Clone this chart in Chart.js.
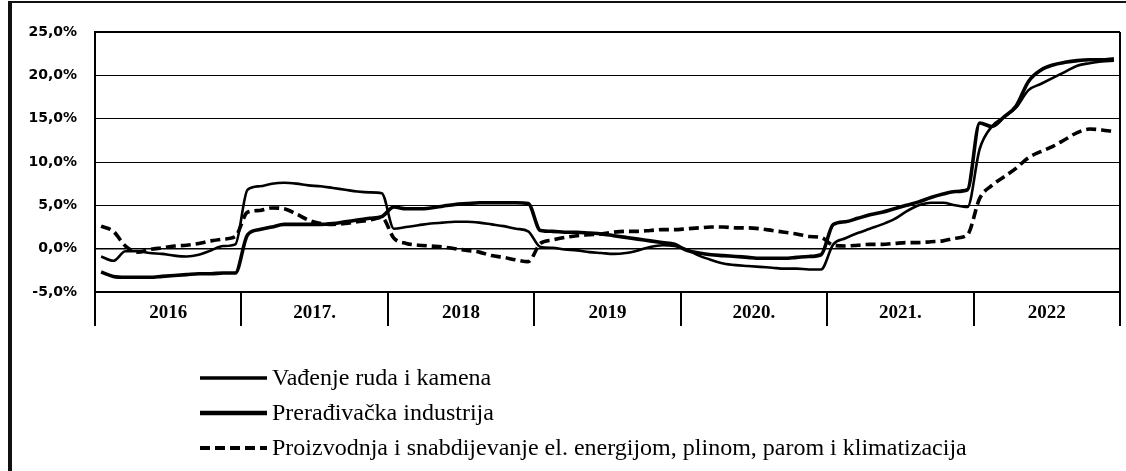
<!DOCTYPE html>
<html>
<head>
<meta charset="utf-8">
<script src="https://cdn.jsdelivr.net/npm/chart.js@4.4.1/dist/chart.umd.min.js"></script>
<style>
  html, body { margin: 0; padding: 0; background: #fff; }
  #wrap { position: relative; width: 1126px; height: 471px; }
  #frame { position: absolute; left: 8px; top: 1px; right: 0; bottom: 0;
           border-left: 4px solid #111; border-top: 2px solid #111; pointer-events: none; }
</style>
</head>
<body>
<div id="wrap">
  <canvas id="chart" width="1126" height="471"></canvas>
  <div id="frame"></div>
</div>
<script>
// years on the x axis (monthly data, 12 points per year)
const years = ['2016', '2017.', '2018', '2019', '2020.', '2021.', '2022'];
const yMin = -5, yMax = 25, yStep = 5;

const seriesNames = [
  'Vađenje ruda i kamena',
  'Prerađivačka industrija',
  'Proizvodnja i snabdijevanje el. energijom, plinom, parom i klimatizacija'
];

// Vađenje ruda i kamena
const vadjenje = [
  -0.9, -1.4, -0.3, -0.3, -0.5, -0.6, -0.8, -0.9, -0.7, -0.2, 0.3, 0.5,
  6.8, 7.2, 7.5, 7.6, 7.5, 7.3, 7.2, 7.0, 6.8, 6.6, 6.5, 6.4,
  2.3, 2.5, 2.7, 2.9, 3.0, 3.1, 3.1, 3.0, 2.8, 2.6, 2.3, 2.0,
  0.2, 0.1, -0.1, -0.2, -0.4, -0.5, -0.6, -0.5, -0.2, 0.2, 0.4, 0.3,
  -0.1, -0.8, -1.3, -1.7, -1.9, -2.0, -2.1, -2.2, -2.3, -2.3, -2.4, -2.4,
  0.5, 1.2, 1.8, 2.3, 2.8, 3.4, 4.3, 5.0, 5.3, 5.3, 5.0, 4.8,
  11.5, 14.1, 15.2, 16.3, 18.3, 19.0, 19.7, 20.4, 21.1, 21.4, 21.6, 21.7
];

// Prerađivačka industrija
const preradjivacka = [
  -2.7, -3.2, -3.3, -3.3, -3.3, -3.2, -3.1, -3.0, -2.9, -2.9, -2.8, -2.8,
  1.6, 2.2, 2.5, 2.8, 2.8, 2.8, 2.8, 2.9, 3.1, 3.3, 3.5, 3.7,
  4.8, 4.6, 4.6, 4.7, 4.9, 5.1, 5.2, 5.3, 5.3, 5.3, 5.3, 5.2,
  2.1, 2.0, 1.9, 1.9, 1.8, 1.7, 1.5, 1.3, 1.1, 0.9, 0.7, 0.5,
  -0.2, -0.5, -0.7, -0.8, -0.9, -1.0, -1.1, -1.1, -1.1, -1.0, -0.9, -0.7,
  2.8, 3.1, 3.5, 3.9, 4.2, 4.6, 5.0, 5.4, 5.9, 6.3, 6.6, 6.8,
  14.5, 14.1, 15.2, 16.5, 19.3, 20.6, 21.2, 21.5, 21.7, 21.8, 21.8, 21.9
];

// Proizvodnja i snabdijevanje el. energijom...
const energija = [
  2.6, 2.0, 0.3, -0.4, -0.1, 0.1, 0.3, 0.4, 0.6, 0.9, 1.1, 1.4,
  4.2, 4.4, 4.7, 4.6, 4.0, 3.3, 2.9, 2.8, 2.9, 3.1, 3.3, 3.6,
  1.2, 0.6, 0.4, 0.3, 0.2, 0.0, -0.2, -0.4, -0.8, -1.0, -1.3, -1.5,
  0.6, 1.0, 1.3, 1.5, 1.6, 1.7, 1.9, 2.0, 2.0, 2.1, 2.2, 2.2,
  2.3, 2.4, 2.5, 2.5, 2.4, 2.4, 2.3, 2.1, 1.9, 1.7, 1.4, 1.3,
  0.4, 0.3, 0.4, 0.5, 0.5, 0.6, 0.7, 0.7, 0.8, 0.9, 1.2, 1.6,
  5.8, 7.3, 8.3, 9.3, 10.5, 11.2, 11.8, 12.6, 13.4, 13.8, 13.7, 13.5
];

const months = years.length * 12;
const toPoints = (arr) => arr.map((v, i) => ({ x: i + 0.5, y: v }));

// legend drawn under the axis as a vertical list, like the original
const listLegend = {
  id: 'listLegend',
  afterDraw(chart) {
    const ctx = chart.ctx;
    const base = chart.chartArea.bottom;
    chart.data.datasets.forEach((ds, i) => {
      const y = base + 86 + i * 35;
      ctx.save();
      ctx.strokeStyle = '#000';
      ctx.lineWidth = ds.legendWidth;
      ctx.setLineDash(ds.borderDash || []);
      ctx.beginPath();
      ctx.moveTo(200, y);
      ctx.lineTo(267, y);
      ctx.stroke();
      ctx.setLineDash([]);
      ctx.fillStyle = '#000';
      ctx.font = '24px "Liberation Serif", "Times New Roman", serif';
      ctx.textBaseline = 'middle';
      ctx.fillText(ds.label, 272, y + 1);
      ctx.restore();
    });
  }
};

const isBoundary = (v) => v % 12 === 0;

new Chart(document.getElementById('chart'), {
  type: 'line',
  plugins: [listLegend],
  data: {
    datasets: [
      {
        label: seriesNames[0],
        data: toPoints(vadjenje),
        borderColor: '#000',
        borderWidth: 2.6,
        legendWidth: 3.5,
        pointRadius: 0,
        cubicInterpolationMode: 'monotone'
      },
      {
        label: seriesNames[1],
        data: toPoints(preradjivacka),
        borderColor: '#000',
        borderWidth: 3.6,
        legendWidth: 4.5,
        pointRadius: 0,
        cubicInterpolationMode: 'monotone'
      },
      {
        label: seriesNames[2],
        data: toPoints(energija),
        borderColor: '#000',
        borderWidth: 3.6,
        legendWidth: 4,
        borderDash: [10, 5],
        pointRadius: 0,
        cubicInterpolationMode: 'monotone'
      }
    ]
  },
  options: {
    responsive: false,
    animation: false,
    devicePixelRatio: 1,
    layout: { padding: { top: 32, right: 6, left: 0, bottom: 0 } },
    plugins: {
      legend: { display: false },
      tooltip: { enabled: false }
    },
    scales: {
      x: {
        type: 'linear',
        min: 0,
        max: months,
        afterBuildTicks: (scale) => {
          scale.ticks = [];
          for (let v = 0; v <= months; v += 6) scale.ticks.push({ value: v });
        },
        afterFit: (scale) => { scale.height = 179; },
        ticks: {
          autoSkip: false,
          maxRotation: 0,
          padding: -24,
          color: '#000',
          font: { family: '"Liberation Serif", serif', size: 19, weight: 'bold' },
          callback: (v) => (v % 12 === 6 ? years[(v - 6) / 12] : '')
        },
        grid: {
          drawOnChartArea: true,
          tickLength: 34,
          color: (c) => (c.tick && (c.tick.value === 0 || c.tick.value === months) ? '#000' : 'rgba(0,0,0,0)'),
          tickColor: (c) => (c.tick && isBoundary(c.tick.value) ? '#000' : 'rgba(0,0,0,0)'),
          lineWidth: 2,
          tickWidth: 2
        },
        border: { display: true, color: '#000', width: 2 }
      },
      y: {
        min: yMin,
        max: yMax,
        afterFit: (scale) => { scale.width = 95; },
        ticks: {
          stepSize: yStep,
          padding: 18,
          color: '#000',
          font: { family: '"DejaVu Sans", sans-serif', size: 14, weight: 'bold' },
          callback: (v) => v.toFixed(1).replace('.', ',') + '%'
        },
        grid: {
          drawTicks: false,
          color: (c) => (c.tick && c.tick.value === yMin ? 'rgba(0,0,0,0)' : '#000'),
          lineWidth: (c) => {
            if (!c.tick) return 1;
            if (c.tick.value === yMax) return 2;
            if (c.tick.value === 0) return 1.6;
            return 1;
          }
        },
        border: { display: true, color: '#000', width: 2 }
      }
    }
  }
});
</script>
</body>
</html>
